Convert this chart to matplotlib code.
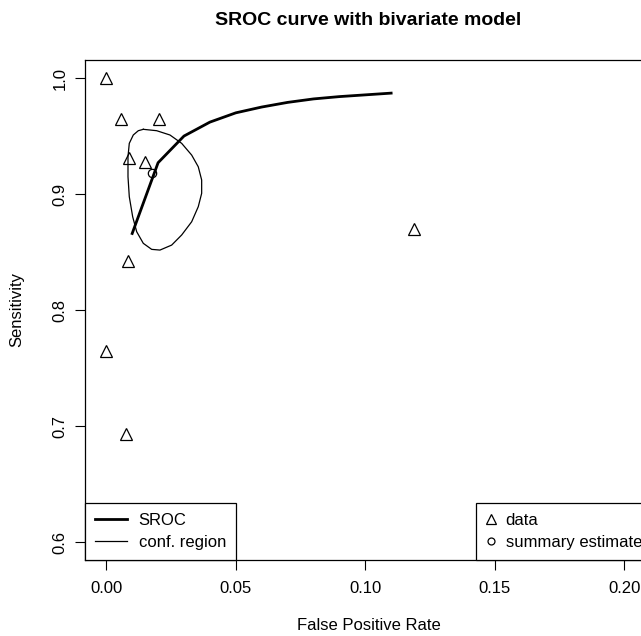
import matplotlib
matplotlib.use("Agg")
import matplotlib.pyplot as plt
from matplotlib.lines import Line2D

plt.rcParams["font.family"] = ["Liberation Sans", "DejaVu Sans"]

# study data (false positive rate, sensitivity)
data_fpr = [0.0, 0.0057, 0.0204, 0.0088, 0.0150, 0.1190, 0.0084, 0.0, 0.0076]
data_sens = [1.000, 0.965, 0.965, 0.931, 0.928, 0.870, 0.842, 0.765, 0.693]

# summary estimate
summary_fpr = 0.0176
summary_sens = 0.918

# SROC curve
sroc_fpr = [0.01, 0.02, 0.03, 0.04, 0.05, 0.06, 0.07, 0.08, 0.09, 0.10, 0.11]
sroc_sens = [0.866, 0.927, 0.950, 0.962, 0.970, 0.975, 0.979, 0.982, 0.984, 0.9855, 0.987]

# confidence region outline
conf_fpr = [0.01429, 0.01946, 0.02459, 0.02911, 0.03297, 0.03552, 0.03683, 0.03683,
            0.03552, 0.03297, 0.02911, 0.02525, 0.02073, 0.01753, 0.01429, 0.01174,
            0.01019, 0.00888, 0.00838, 0.00838, 0.00888, 0.01042, 0.01236, 0.01429]
conf_sens = [0.9558, 0.9546, 0.9509, 0.9437, 0.9336, 0.9235, 0.9121, 0.9006,
             0.8891, 0.8761, 0.8647, 0.8560, 0.8517, 0.8523, 0.8575, 0.8675,
             0.8804, 0.8977, 0.9149, 0.9322, 0.9437, 0.9509, 0.9546, 0.9558]

x_ticks = [0.00, 0.05, 0.10, 0.15, 0.20]
y_ticks = [0.6, 0.7, 0.8, 0.9, 1.0]

fig = plt.figure(figsize=(6.41, 6.36), dpi=100)
ax = fig.add_axes([0.1331, 0.1195, 0.8839, 0.7866])

ax.plot(sroc_fpr, sroc_sens, color="black", lw=2)
ax.plot(conf_fpr, conf_sens, color="black", lw=0.9)
ax.plot(data_fpr, data_sens, linestyle="none", marker="^", ms=8,
        mfc="none", mec="black", mew=0.9)
ax.plot([summary_fpr], [summary_sens], linestyle="none", marker="o", ms=6,
        mfc="none", mec="black", mew=0.9)

ax.set_xlim(-0.0081, 0.2107)
ax.set_ylim(0.5845, 1.0158)
ax.set_xticks(x_ticks)
ax.set_xticklabels(["%.2f" % v for v in x_ticks])
ax.set_yticks(y_ticks)
ax.set_yticklabels(["%.1f" % v for v in y_ticks], rotation=90, va="center")
ax.tick_params(direction="out", length=7, width=0.8, labelsize=12, pad=8)
ax.tick_params(axis="y", pad=6)
for s in ax.spines.values():
    s.set_linewidth(0.9)

ax.set_title("SROC curve with bivariate model", fontsize=14,
             fontweight="bold", pad=25)
ax.set_xlabel("False Positive Rate", fontsize=12, labelpad=16)
ax.set_ylabel("Sensitivity", fontsize=12, labelpad=20)

h1 = [Line2D([], [], color="black", lw=2), Line2D([], [], color="black", lw=0.9)]
leg1 = ax.legend(h1, ["SROC", "conf. region"], loc="lower left",
                 borderaxespad=0, fancybox=False, edgecolor="black",
                 framealpha=1, fontsize=12, handlelength=1.9,
                 handletextpad=0.7, borderpad=0.6, labelspacing=0.4)
leg1.get_frame().set_linewidth(0.9)
ax.add_artist(leg1)

h2 = [Line2D([], [], linestyle="none", marker="^", ms=7, mfc="none",
             mec="black", mew=0.9),
      Line2D([], [], linestyle="none", marker="o", ms=5, mfc="none",
             mec="black", mew=0.9)]
leg2 = ax.legend(h2, ["data", "summary estimate"], loc="lower right",
                 borderaxespad=0, fancybox=False, edgecolor="black",
                 framealpha=1, fontsize=12, handlelength=0.7,
                 handletextpad=0.5, borderpad=0.6, labelspacing=0.4)
leg2.get_frame().set_linewidth(0.9)

fig.savefig("out.png", dpi=100)
